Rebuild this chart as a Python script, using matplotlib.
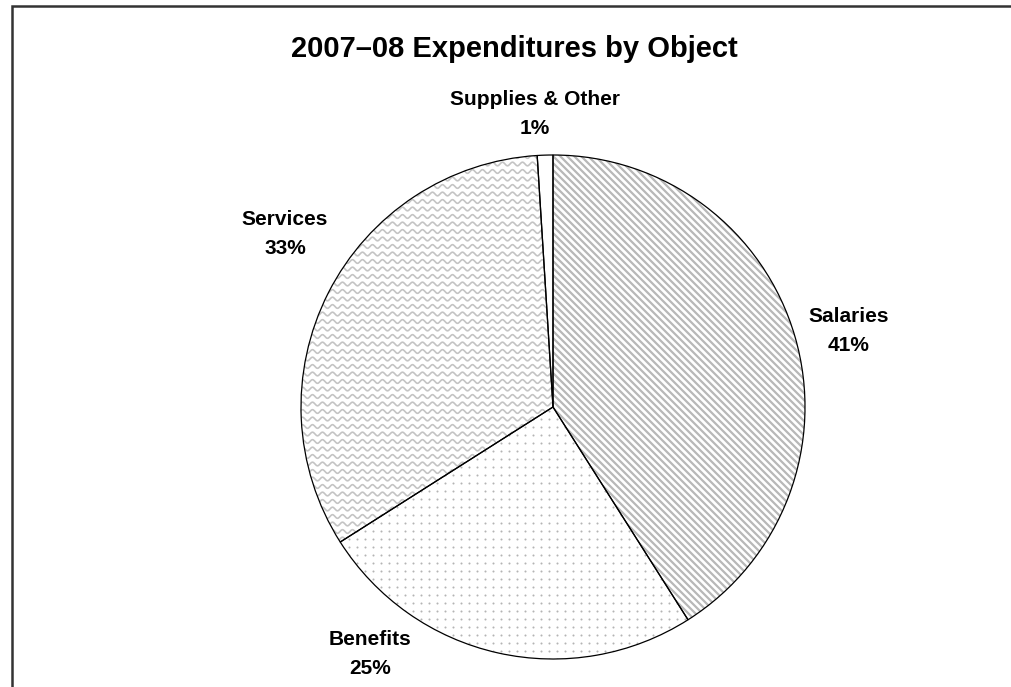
import numpy as np
import matplotlib
matplotlib.use("Agg")
import matplotlib.pyplot as plt
import matplotlib.patches as mpatches
from matplotlib import font_manager

# expenditure shares, percent
categories = ["Salaries", "Benefits", "Services", "Supplies & Other"]
shares = [41, 25, 33, 1]

W, H = 1012, 687
CX, CY, R = 553, H - 407, 252

# label anchors (pixel coords from the top-left)
label_xy = [(849, 331), (370, 654), (285, 234), (535, 114)]

# plain (not narrow) Liberation Sans Bold
bold_path = None
for f in font_manager.fontManager.ttflist:
    if f.fname.endswith("LiberationSans-Bold.ttf"):
        bold_path = f.fname
        break
if bold_path:
    bold = font_manager.FontProperties(fname=bold_path)
else:
    bold = font_manager.FontProperties(family="DejaVu Sans", weight="bold")

fig = plt.figure(figsize=(W / 100, H / 100), dpi=100)
ax = fig.add_axes([0, 0, 1, 1])

wedges, _ = ax.pie(shares, startangle=90, counterclock=False,
                   center=(CX, CY), radius=R,
                   wedgeprops=dict(facecolor='white', edgecolor='none'))
ax.set_xlim(0, W)
ax.set_ylim(0, H)
ax.set_aspect('equal')
ax.axis('off')

xs = np.arange(CX - R - 20, CX + R + 20, 0.5)


def clip_all(artists, patch):
    for a in artists:
        a.set_clip_path(patch)


# Salaries: diagonal stripes
stripes = []
for k in np.arange(-2 * W, 2 * W, 7):
    ln, = ax.plot(xs, -xs + k, color='#b8b8b8', lw=1.6, zorder=2,
                  solid_capstyle='butt')
    stripes.append(ln)
clip_all(stripes, wedges[0])

# Benefits: dot grid
gx, gy = np.meshgrid(np.arange(CX - R, CX + R, 8), np.arange(CY - R, CY + R, 8))
dots = ax.scatter(gx.ravel(), gy.ravel(), s=2.2, color='#b4b4b4',
                  linewidths=0, zorder=2)
dots.set_clip_path(wedges[1])

# Services: wavy lines
waves = []
for y0 in np.arange(CY - R, CY + R + 10, 7.5):
    ln, = ax.plot(xs, y0 + 1.8 * np.sin(2 * np.pi * xs / 10), color='#c4c4c4',
                  lw=1.2, zorder=2)
    waves.append(ln)
clip_all(waves, wedges[2])

# outlines on top of the fills
for w in wedges:
    ax.add_patch(mpatches.Wedge(w.center, w.r, w.theta1, w.theta2, fill=False,
                                edgecolor='black', lw=0.9, zorder=4))

for name, pct, (lx, ly) in zip(categories, shares, label_xy):
    ax.text(lx, H - ly, f"{name}\n{pct}%", ha='center', va='center',
            fontproperties=bold, fontsize=15, linespacing=1.7, zorder=5)

ax.text(514, H - 49, "2007\u201308 Expenditures by Object", ha='center',
        va='center', fontproperties=bold, fontsize=21)

# page frame, open to the right and bottom
ax.add_patch(mpatches.Rectangle((12, -50), 2000, H - 6 + 50, fill=False,
                                edgecolor='#333333', lw=1.8, zorder=6))

fig.savefig("out.png", dpi=100)
